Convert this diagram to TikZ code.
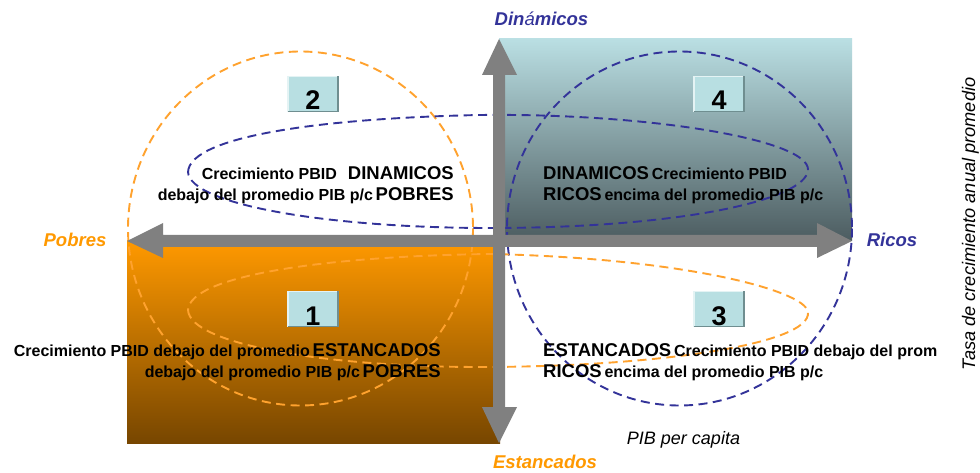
\documentclass[tikz,border=0pt]{standalone}
\usepackage{fontspec}
\setmainfont{Liberation Sans}
\definecolor{axisgray}{HTML}{808080}
\definecolor{qorange}{HTML}{FF9900}
\definecolor{qbrown}{HTML}{774600}
\definecolor{qteal}{HTML}{BADFE3}
\definecolor{qslate}{HTML}{4C5C60}
\definecolor{dblue}{HTML}{333399}
\definecolor{dorange}{HTML}{FFA22E}
\definecolor{boxfill}{HTML}{B8DFE2}
\definecolor{boxlight}{HTML}{E4F3F4}
\definecolor{boxdark}{HTML}{6F8E90}
\newcommand\qsm{\fontsize{16}{19}\selectfont\bfseries}
\newcommand\qlg{\fontsize{18.5}{22}\selectfont\bfseries}
\begin{document}
\begin{tikzpicture}[x=1pt,y=-1pt,
  qtext/.style={inner sep=0pt, text=black},
  dashline/.style={dash pattern=on 9pt off 5.5pt, line width=1.9pt},
  numbox/.style={fill=boxfill, minimum width=50pt, minimum height=35pt, inner sep=0pt, draw=none},
  numtext/.style={inner sep=0pt, font=\fontsize{27}{30}\selectfont\bfseries, anchor=base},
  axislabel/.style={inner sep=0pt, font=\fontsize{18.5}{21}\selectfont\bfseries\itshape, anchor=base},
  bevlight/.style={draw=boxlight, line width=1.5pt},
  bevdark/.style={draw=boxdark, line width=1.5pt},
]
\useasboundingbox (0,0) rectangle (980,473);
\fill[white] (0,0) rectangle (980,473);
% quadrant fills
\shade[top color=qorange, bottom color=qbrown] (127,241) rectangle (500,443);
\shade[top color=qteal, bottom color=qslate] (499,39) rectangle (852,241);
% dashed outlines
\draw[dashline, dorange] (300.5,228.5) ellipse [x radius=172.5, y radius=177];
\draw[dashline, dblue] (679.5,228.5) ellipse [x radius=172.5, y radius=177];
\draw[dashline, dblue] (188,172) .. controls (190,135) and (330,118) .. (480,115)
  .. controls (650,113) and (810,140) .. (808,170)
  .. controls (806,200) and (680,228) .. (490,228)
  .. controls (330,228) and (190,205) .. (188,172) -- cycle;
\draw[dashline, dorange] (188,310) .. controls (190,345) and (330,367) .. (480,367)
  .. controls (650,367) and (812,345) .. (808,312)
  .. controls (805,290) and (680,258) .. (490,254)
  .. controls (330,256) and (190,275) .. (188,310) -- cycle;
% axes
\fill[axisgray] (127,241) -- (163,223) -- (163,235) -- (817,235) -- (817,223) -- (852,241)
  -- (817,258) -- (817,247) -- (163,247) -- (163,258) -- cycle;
\fill[axisgray] (499,39) -- (517,75) -- (505,75) -- (505,407) -- (517,407) -- (499,443)
  -- (482,407) -- (493,407) -- (493,75) -- (482,75) -- cycle;
% number boxes
\node[numbox] (b2) at (313,94) {};
\node[numbox] (b4) at (719,94) {};
\node[numbox] (b1) at (313,309) {};
\node[numbox] (b3) at (719,309) {};
\foreach \b in {b1,b2,b3,b4}{
  \draw[bevlight] (\b.south west) -- (\b.north west) -- (\b.north east);
  \draw[bevdark] (\b.north east) -- (\b.south east) -- (\b.south west);
}
\node[numtext] (n2) at (313,110) {2};
\node[numtext] (n4) at (719,110) {4};
\node[numtext] (n1) at (313,325) {1};
\node[numtext] (n3) at (719,325) {3};
% quadrant texts
\node[qtext, anchor=base east] (t2a) at (454,180) {{\qsm Crecimiento PBID}\hspace{11pt}{\qlg DINAMICOS}};
\node[qtext, anchor=base east] (t2b) at (454,201) {{\qsm debajo del promedio PIB p/c} {\qlg POBRES}};
\node[qtext, anchor=base west] (t4a) at (543,180) {{\qlg DINAMICOS} {\qsm Crecimiento PBID}};
\node[qtext, anchor=base west] (t4b) at (543,201) {{\qlg RICOS} {\qsm encima del promedio PIB p/c}};
\node[qtext, anchor=base east] (t1a) at (441,356) {{\qsm Crecimiento PBID debajo del promedio} {\qlg ESTANCADOS}};
\node[qtext, anchor=base east] (t1b) at (441,377) {{\qsm debajo del promedio PIB p/c} {\qlg POBRES}};
\node[qtext, anchor=base west] (t3a) at (543,356) {{\qlg ESTANCADOS} {\qsm Crecimiento PBID debajo del prom}};
\node[qtext, anchor=base west] (t3b) at (543,377) {{\qlg RICOS} {\qsm encima del promedio PIB p/c}};
% axis labels
\node[axislabel, text=dblue] (dyn) at (541.5,26) {Din{\mdseries á}micos};
\node[axislabel, text=qorange] (pob) at (75,247) {Pobres};
\node[axislabel, text=dblue] (ric) at (892,247) {Ricos};
\node[axislabel, text=qorange] (est) at (545,468) {Estancados};
\node[inner sep=0pt, font=\fontsize{18}{21}\selectfont\itshape, anchor=base] (pib) at (683.5,444) {PIB per capita};
\node[inner sep=0pt, font=\fontsize{18.2}{21}\selectfont\itshape, rotate=90, anchor=base] (tasa) at (975,224) {Tasa de crecimiento anual promedio};
\end{tikzpicture}
\end{document}
